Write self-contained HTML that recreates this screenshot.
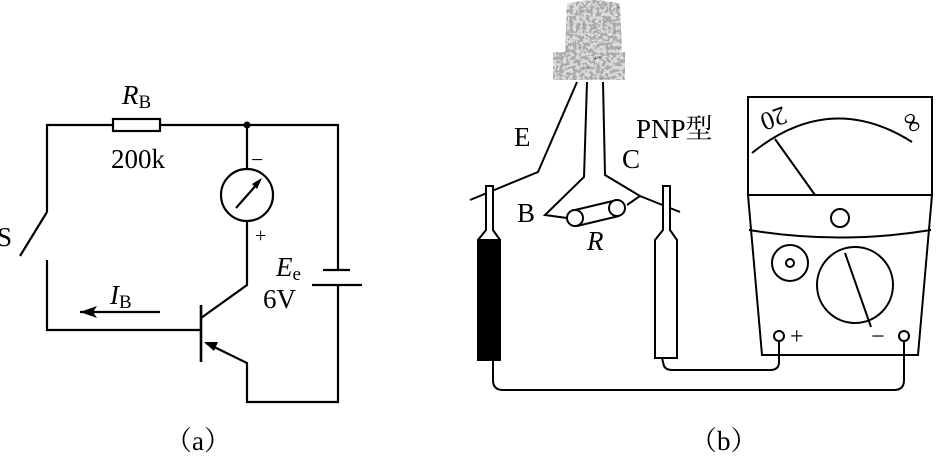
<!DOCTYPE html>
<html><head><meta charset="utf-8"><style>
html,body{margin:0;padding:0;background:#fff;width:937px;height:458px;overflow:hidden}
svg{display:block}
text{font-family:"Liberation Serif","Noto Serif CJK SC",serif;fill:#000}
</style></head><body>
<svg width="937" height="458" viewBox="0 0 937 458" xmlns="http://www.w3.org/2000/svg">
<defs>
<filter id="n"><feTurbulence type="fractalNoise" baseFrequency="0.3" numOctaves="2" seed="3"/><feColorMatrix type="saturate" values="0"/><feComponentTransfer><feFuncR type="discrete" tableValues="0 0.4 0.7 0.9"/><feFuncG type="discrete" tableValues="0 0.4 0.7 0.9"/><feFuncB type="discrete" tableValues="0 0.4 0.7 0.9"/><feFuncA type="table" tableValues="1 1"/></feComponentTransfer><feComposite in2="SourceGraphic" operator="in"/></filter>
</defs>
<g stroke="#000" stroke-width="2.2" fill="none">
<polyline points="47,212 47,125 113,125"/>
<rect x="113" y="119" width="47" height="12"/>
<polyline points="160,125 338,125 338,270"/>
<line x1="20" y1="256" x2="47" y2="212"/>
<polyline points="47,260 47,330 201,330"/>
<line x1="201" y1="305" x2="201" y2="362" stroke-width="2.6"/>
<polyline points="201,318 247,285 247,221"/>
<line x1="247" y1="125" x2="247" y2="169"/>
<circle cx="247" cy="195" r="26"/>
<line x1="236" y1="208" x2="258" y2="183"/>
<polyline points="206,343 247,363 247,402 338,402 338,285"/>
<line x1="323" y1="270" x2="350" y2="270"/>
<line x1="312" y1="285" x2="362" y2="285"/>
<line x1="80" y1="312" x2="160" y2="312"/>
</g>
<circle cx="247" cy="125" r="3.5"/>
<polygon points="262,178 252,184 257,189"/>
<polygon points="204,342 218,342 214,351"/>
<polygon points="80,312 97,306 93,312 97,318"/>
<text x="122" y="104" font-size="27" font-style="italic">R<tspan font-style="normal" font-size="19" dy="4">B</tspan></text>
<text x="111" y="168" font-size="27">200k</text>
<text x="-3" y="246" font-size="27">S</text>
<text x="251" y="167" font-size="22">−</text>
<text x="255" y="242" font-size="20">+</text>
<text x="276" y="276" font-size="27" font-style="italic">E<tspan font-style="normal" font-size="19" dy="4">e</tspan></text>
<text x="263" y="308" font-size="27">6V</text>
<text x="110" y="304" font-size="27" font-style="italic">I<tspan font-style="normal" font-size="19" dy="4">B</tspan></text>
<text x="165" y="450" font-size="27">（a）</text>
<text x="690" y="450" font-size="27">（b）</text>
<g filter="url(#n)">
<path d="M567,4 Q593,-4 620,4 L622,52 L565,52 Z" fill="#999"/>
<rect x="553" y="52" width="72" height="28" fill="#777"/>
</g>
<g stroke="#000" stroke-width="2" fill="none">
<polyline points="577,82 538,172 470,200"/>
<polyline points="587,82 584,177 545,215 567,218"/>
<polyline points="603,82 605,175 640,196 680,212"/>
<line x1="627" y1="205" x2="640" y2="196"/>
<path d="M575,210 L617,200 M577,226 L619,216"/>
<circle cx="575" cy="218" r="8" fill="#fff"/>
<circle cx="617" cy="208" r="8" fill="#fff"/>
<path d="M486,186 L493,186 L493,230 L500,240 L500,360 L478,360 L478,240 L486,230 Z" fill="#fff"/>
<rect x="478" y="240" width="22" height="120" fill="#000"/>
<path d="M663,186 L670,186 L670,230 L677,240 L677,358 L655,358 L655,240 L663,230 Z" fill="#fff"/>
<path d="M493,360 L493,380 Q493,390 503,390 L894,390 Q904,390 904,380 L904,341"/>
<path d="M662,358 L664,366 Q666,370 672,370 L770,370 Q779,370 779,362 L779,341"/>
<rect x="748" y="97" width="184" height="98"/>
<polyline points="748,195 762,355 918,355 932,195"/>
<path d="M749,230 Q840,245 931,230"/>
<path d="M752,153 Q830,90 912,142"/>
<line x1="775" y1="139" x2="815" y2="195"/>
<circle cx="840" cy="218" r="9"/>
<circle cx="790" cy="263" r="18"/>
<circle cx="790" cy="263" r="4"/>
<circle cx="855" cy="285" r="38"/>
<line x1="845" y1="253" x2="871" y2="327"/>
<circle cx="779" cy="336" r="5" fill="#fff"/>
<circle cx="904" cy="336" r="5" fill="#fff"/>
</g>
<text x="514" y="146" font-size="27">E</text>
<text x="622" y="168" font-size="27">C</text>
<text x="517" y="222" font-size="27">B</text>
<text x="587" y="250" font-size="27" font-style="italic">R</text>
<text x="636" y="138" font-size="27">PNP型</text>
<text x="0" y="0" font-size="26" transform="translate(783,106) rotate(160)">20</text>
<text x="0" y="0" font-size="28" transform="translate(900,118) rotate(60)">∞</text>
<text x="790" y="344" font-size="24">+</text>
<text x="871" y="344" font-size="24">−</text>
</svg>
</body></html>
